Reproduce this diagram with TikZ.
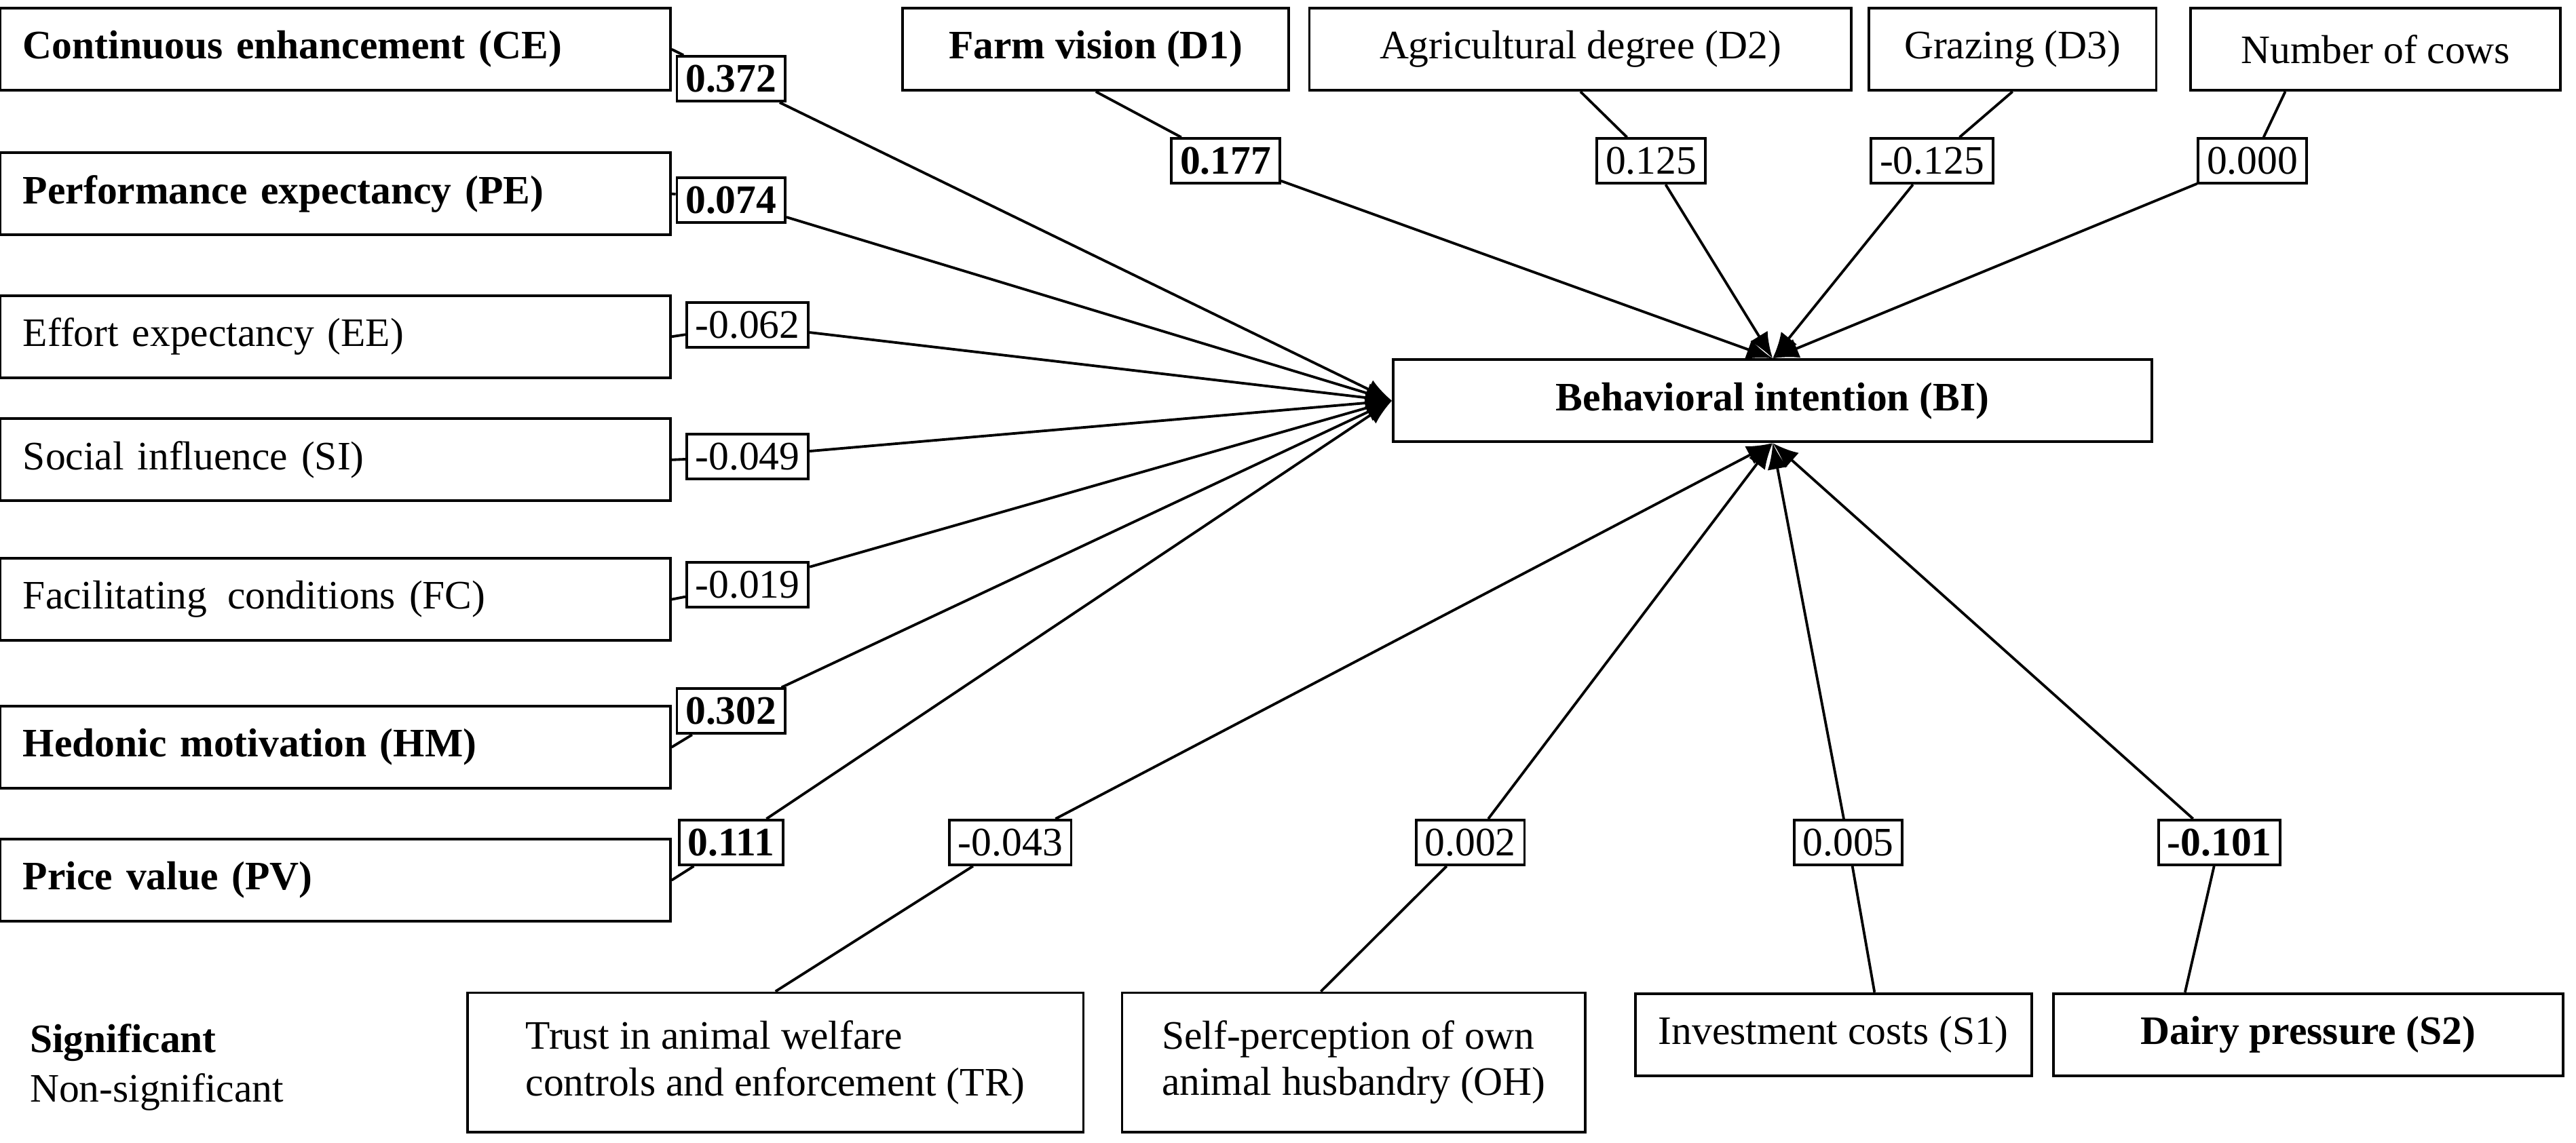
\documentclass[tikz,border=0pt]{standalone}
\usepackage{fontspec}
\setmainfont{Liberation Serif}
\usetikzlibrary{arrows.meta}
\tikzset{
  box/.style={draw, line width=0.9pt, minimum height=1cm, inner xsep=8pt},
  lbox/.style={box, align=left, text width=#1, minimum width=#1},
  coef/.style={draw, fill=white, line width=0.9pt, inner sep=3pt, minimum height=0.5cm},
  arr/.style={line width=0.9pt, -{Latex[length=9pt,width=7pt]}}
}
\begin{document}
\begin{tikzpicture}[x=0.02cm, y=-0.02cm, font=\fontsize{14}{16}\selectfont]
\useasboundingbox (0,0) rectangle (1568,696);

% left column
\node[lbox=7.6cm] (CE) at (204,30) {\textbf{Continuous enhancement (CE)}};
\node[lbox=7.6cm] (PE) at (204,118) {\textbf{Performance expectancy (PE)}};
\node[lbox=7.6cm] (EE) at (204,205) {Effort expectancy (EE)};
\node[lbox=7.6cm] (SI) at (204,280) {Social influence (SI)};
\node[lbox=7.6cm] (FC) at (204,365) {Facilitating\, conditions (FC)};
\node[lbox=7.6cm] (HM) at (204,455) {\textbf{Hedonic motivation (HM)}};
\node[lbox=7.6cm] (PV) at (204,536) {\textbf{Price value (PV)}};

% outcome
\node[box, minimum width=9.24cm] (BI) at (1079,244) {\textbf{Behavioral intention (BI)}};

% top row
\node[box, minimum width=4.7cm] (D1) at (667,30) {\textbf{Farm vision (D1)}};
\node[box, minimum width=6.6cm] (D2) at (962,30) {Agricultural degree (D2)};
\node[box, minimum width=3.5cm] (D3) at (1225,30) {Grazing (D3)};
\node[box, minimum width=4.5cm] (NC) at (1446,30) {Number of cows};

% bottom row
\node[box, minimum width=7.5cm, minimum height=1.7cm, align=left] (TR) at (472,647) {Trust in animal welfare\\controls and enforcement (TR)};
\node[box, minimum width=5.64cm, minimum height=1.7cm, align=left] (OH) at (824,647) {Self-perception of own\\animal husbandry (OH)};
\node[box, minimum width=4.64cm] (S1) at (1116,630) {Investment costs (S1)};
\node[box, minimum width=6.2cm] (S2) at (1405,630) {\textbf{Dairy pressure (S2)}};

% coefficients
\node[coef] (cCE) at (445,48) {\textbf{0.372}};
\node[coef] (cPE) at (445,122) {\textbf{0.074}};
\node[coef] (cEE) at (455,198) {-0.062};
\node[coef] (cSI) at (455,278) {-0.049};
\node[coef] (cFC) at (455,356) {-0.019};
\node[coef] (cHM) at (445,433) {\textbf{0.302}};
\node[coef] (cPV) at (445,513) {\textbf{0.111}};
\node[coef] (cD1) at (746,98) {\textbf{0.177}};
\node[coef] (cD2) at (1005,98) {0.125};
\node[coef] (cD3) at (1176,98) {-0.125};
\node[coef] (cNC) at (1371,98) {0.000};
\node[coef] (cTR) at (615,513) {-0.043};
\node[coef] (cOH) at (895,513) {0.002};
\node[coef] (cS1) at (1125,513) {0.005};
\node[coef] (cS2) at (1351,513) {\textbf{-0.101}};

% paths
\foreach \n in {CE,PE,EE,SI,FC,HM,PV}
  \draw[arr] (\n.east) -- (c\n) -- (BI.west);
\draw[arr] (D1.south) -- (cD1) -- (BI.north);
\draw[arr] (D2.south) -- (cD2) -- (BI.north);
\draw[arr] (D3.south) -- (cD3) -- (BI.north);
\draw[arr] ([xshift=-1.1cm]NC.south) -- (cNC) -- (BI.north);
\draw[arr] (TR.north) -- (cTR) -- (BI.south);
\draw[arr] ([xshift=-0.4cm]OH.north) -- (cOH) -- (BI.south);
\draw[arr] ([xshift=0.5cm]S1.north) -- (cS1) -- (BI.south);
\draw[arr] ([xshift=-1.5cm]S2.north) -- (cS2) -- (BI.south);

% legend
\node[anchor=west] (sig) at (12,635) {\textbf{Significant}};
\node[anchor=west] (nsig) at (12,665) {Non-significant};
\end{tikzpicture}
\end{document}
